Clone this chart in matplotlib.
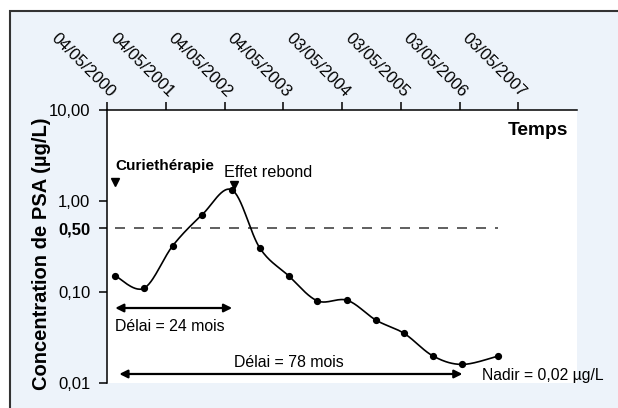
import numpy as np
import matplotlib.pyplot as plt
from matplotlib.patches import Rectangle

plt.rcParams['font.family'] = ['Liberation Sans', 'DejaVu Sans']

# Suivi du PSA (années depuis le 04/05/2000)
temps = [0.14, 0.63, 1.12, 1.62, 2.13, 2.60, 3.09, 3.58, 4.09, 4.58, 5.06, 5.55, 6.05, 6.66]
psa = [0.151, 0.110, 0.323, 0.707, 1.32, 0.305, 0.151, 0.080, 0.081, 0.049, 0.035, 0.0198, 0.016, 0.0198]

dates = ['04/05/2000', '04/05/2001', '04/05/2002', '04/05/2003',
         '03/05/2004', '03/05/2005', '03/05/2006', '03/05/2007']
y_ticks = [0.01, 0.1, 0.5, 1, 10]
y_labels = ['0,01', '0,10', '0,50', '1,00', '10,00']
seuil = 0.5

i_pic = int(np.argmax(psa))
i_nadir = int(np.argmin(psa))


def courbe_lissee(x, y, n=30):
    # lissage type Bezier (Catmull-Rom) en echelle log
    x = np.asarray(x, float)
    ly = np.log10(y)
    px = np.concatenate([[x[0]], x, [x[-1]]])
    py = np.concatenate([[ly[0]], ly, [ly[-1]]])
    xs, ys = [], []
    t = np.linspace(0, 1, n)
    for k in range(1, len(px) - 2):
        p0 = np.array([px[k], py[k]])
        p3 = np.array([px[k + 1], py[k + 1]])
        c1 = p0 + (np.array([px[k + 1], py[k + 1]]) - np.array([px[k - 1], py[k - 1]])) / 6
        c2 = p3 - (np.array([px[k + 2], py[k + 2]]) - np.array([px[k], py[k]])) / 6
        b = ((1 - t) ** 3)[:, None] * p0 + (3 * (1 - t) ** 2 * t)[:, None] * c1 \
            + (3 * (1 - t) * t ** 2)[:, None] * c2 + (t ** 3)[:, None] * p3
        xs.extend(b[:, 0])
        ys.extend(b[:, 1])
    return np.array(xs), 10 ** np.array(ys)


fig = plt.figure(figsize=(6.18, 4.08), dpi=100)
fig.patch.set_facecolor('white')
cadre = Rectangle((10 / 618, -0.1), 1.2, 1.1 - 11.5 / 408,
                  transform=fig.transFigure, facecolor='#edf3fa',
                  edgecolor='#333333', lw=1.5, zorder=-10)
fig.patches.append(cadre)

ax = fig.add_axes([107 / 618, 1 - 383 / 408, 470 / 618, 273 / 408])
ax.set_facecolor('white')
ax.set_yscale('log')
ax.set_xlim(0, 8)
ax.set_ylim(0.01, 10)

for s in ['right', 'bottom']:
    ax.spines[s].set_visible(False)
for s in ['left', 'top']:
    ax.spines[s].set_linewidth(1.1)

ax.xaxis.tick_top()
ax.set_xticks(range(len(dates)))
ax.set_xticklabels(dates, rotation=-45, ha='right', va='bottom',
                   rotation_mode='anchor', fontsize=12)
ax.tick_params(axis='x', direction='out', length=6, width=1.1, pad=1)

ax.set_yticks(y_ticks)
ax.set_yticklabels(y_labels, fontsize=12)
ax.yaxis.set_minor_locator(plt.NullLocator())
ax.tick_params(axis='y', direction='out', length=6, width=1.1, pad=6)
for lab, v in zip(ax.get_yticklabels(), y_ticks):
    if v == seuil:
        lab.set_fontweight('bold')

fig.text(41.5 / 618, 1 - 254 / 408, 'Concentration de PSA (µg/L)', rotation=90,
         ha='center', va='center', fontsize=14.5, fontweight='bold')

# seuil a 0,50
ax.plot([temps[0], temps[-1]], [seuil, seuil], color='#444444', lw=1.2,
        dashes=(6, 5.4))

# courbe et points
xs, ys = courbe_lissee(temps, psa)
ax.plot(xs, ys, color='black', lw=1.2, zorder=3)
ax.plot(temps, psa, 'o', color='black', ms=4.2, zorder=4)

# reperes
ax.plot(temps[0], 1.62, 'v', color='black', ms=6)
ax.plot(temps[i_pic] + 0.03, psa[i_pic] * 1.14, 'v', color='black', ms=6, zorder=5)
ax.text(temps[0], 2.42, 'Curiethérapie', fontsize=11, fontweight='bold',
        ha='left', va='center')
ax.text(1.99, 2.08, 'Effet rebond', fontsize=11.7, ha='left', va='center')
ax.text(7.85, 5.88, 'Temps', fontsize=13.8, fontweight='bold', ha='right', va='center')

# delais
ax.annotate('', xy=(temps[i_pic], 0.0667), xytext=(temps[0], 0.0667),
            arrowprops=dict(arrowstyle='<|-|>', color='black', lw=1.6,
                            mutation_scale=12, shrinkA=0, shrinkB=0))
ax.text(temps[0], 0.0423, 'Délai = 24 mois', fontsize=11.4, ha='left', va='center')
ax.annotate('', xy=(temps[i_nadir], 0.01256), xytext=(temps[0] + 0.07, 0.01256),
            arrowprops=dict(arrowstyle='<|-|>', color='black', lw=1.6,
                            mutation_scale=12, shrinkA=0, shrinkB=0), annotation_clip=False)
ax.text(3.1, 0.017, 'Délai = 78 mois', fontsize=11.4, ha='center', va='center')
nadir_txt = 'Nadir = ' + f'{psa[i_nadir]:.2f}'.replace('.', ',') + ' µg/L'
ax.text(6.38, 0.0120, nadir_txt, fontsize=11.3, ha='left', va='center', clip_on=False)

fig.savefig('out.png', dpi=100)
